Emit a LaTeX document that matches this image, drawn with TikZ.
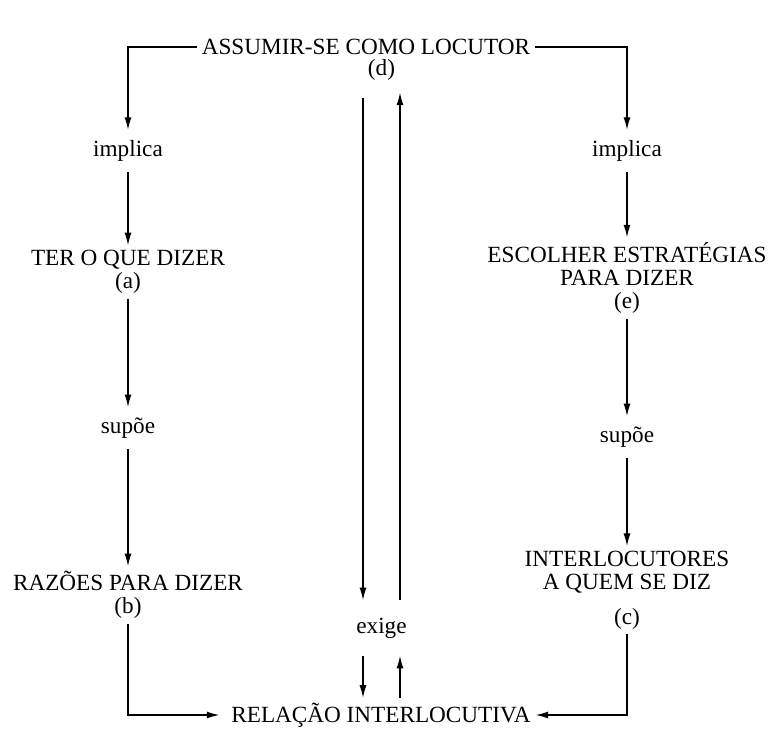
\documentclass[tikz,border=0pt]{standalone}
\usepackage{fontspec}
\setmainfont{Liberation Serif}
\usetikzlibrary{graphs,arrows.meta}
\tikzset{
    caixa/.style ={
        align=center,
        inner sep=3pt,
        font=\fontsize{16.5}{16.5}\selectfont
    },
    verbo/.style ={
        inner xsep=3pt,
        inner ysep=7pt,
        font=\fontsize{16.5}{16}\selectfont
    },
    letra/.style ={
        inner xsep=3pt,
        inner ysep=8pt,
        font=\fontsize{16.5}{16}\selectfont
    }
}

\begin{document}
\begin{tikzpicture}[x=0.025cm,y=-0.025cm,line width=1pt,>={Latex[length=9pt,width=5pt]}]
    \useasboundingbox (0,0) rectangle (778,729);
    \node[caixa] (locutor) at(366,47) {ASSUMIR-SE COMO LOCUTOR};
    \node[letra] (d) at(381.5,70) {(d)};
    \node[verbo] (implA) at(128,151) {implica};
    \node[caixa] (a) at(128,272) {TER O QUE DIZER\\(a)};
    \node[verbo] (supA) at(128,428) {supõe};
    \node[caixa] (b) at(128,595) {RAZÕES PARA DIZER\\(b)};
    \node[verbo] (implB) at(627,151) {implica};
    \node[caixa] (e) at(627,278) {ESCOLHER ESTRATÉGIAS\\PARA DIZER\\(e)};
    \node[verbo] (supB) at(627,437) {supõe};
    \node[caixa] (c) at(627,590) {INTERLOCUTORES\\A QUEM SE DIZ\\[8pt](c)};
    \node[letra,inner ysep=12pt] (exige) at(381.5,628) {exige};
    \node[caixa] (rel) at(381,715) {RELAÇÃO INTERLOCUTIVA};
    % ramos de cima
    \draw[->] (locutor.west) -| (implA.north);
    \draw[->] (locutor.east) -| (implB.north);
    \graph{
        (implA)->(a)->(supA)->(b);
        (implB)->(e)->(supB)->(c);
    };
    % ramos de baixo
    \draw[->,shorten >=5pt] (b.south) |- (rel.west);
    \draw[->] (c.south) |- (rel.east);
    % exige
    \draw[->,shorten <=4pt] ([shift={(-18.5,0)}]d.south) -- ([shift={(-18.5,0)}]exige.north);
    \draw[->] ([shift={(18.5,0)}]exige.north) -- ([shift={(18.5,0)}]d.south);
    \draw[->] ([shift={(-18.5,0)}]exige.south) -- ([shift={(-18.5,0)}]exige.south |- rel.north);
    \draw[->] ([shift={(18.5,0)}]exige.south |- rel.north) -- ([shift={(18.5,0)}]exige.south);
\end{tikzpicture}
\end{document}
